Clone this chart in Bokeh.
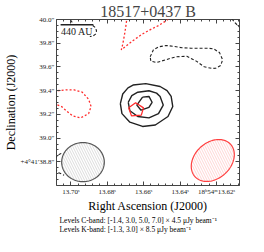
import numpy as np
from bokeh.plotting import figure
from bokeh.models import Range1d, FixedTicker, LinearAxis, Label, Title
from bokeh.embed import file_html
from bokeh.resources import INLINE

# ---------------- data ----------------
title_text = "18517+0437 B"
x_label_text = "Right Ascension (J2000)"
y_label_text = "Declination (J2000)"
levels_c_text = "Levels C-band: [-1.4, 3.0, 5.0, 7.0] × 4.5 μJy beam⁻¹"
levels_k_text = "Levels K-band: [-1.3, 3.0] × 8.5 μJy beam⁻¹"
scale_text = "440 AU"

x_tick_values = [13.70, 13.68, 13.66, 13.64, 13.62]
x_tick_labels = ["13.70ˢ", "13.68ˢ", "13.66ˢ", "13.64ˢ", "18ʰ54ᵐ13.62ˢ"]
y_tick_values = [38.8, 39.0, 39.2, 39.4, 39.6, 39.8, 40.0]
y_tick_labels = ["+4°41′38.8″", "39.0″", "39.2″", "39.4″", "39.6″", "39.8″", "40.0″"]

ra_range = [13.70785, 13.60733]
dec_range = [38.6, 40.0]

# C-band (black) contours: positive levels (solid)
c_pos1_ra = [13.67278, 13.67147, 13.66859, 13.66581, 13.65880, 13.65094, 13.64712, 13.64487,
             13.64398, 13.64660, 13.65356, 13.66058, 13.66754, 13.67189, 13.67278]
c_pos1_dec = [39.291, 39.372, 39.423, 39.447, 39.459, 39.435, 39.401, 39.351,
              39.266, 39.182, 39.110, 39.098, 39.134, 39.206, 39.291]
c_pos2_ra = [13.66843, 13.66649, 13.66320, 13.65707, 13.65288, 13.65094, 13.64922, 13.65183,
             13.65707, 13.66320, 13.66754, 13.66843]
c_pos2_dec = [39.302, 39.358, 39.387, 39.399, 39.379, 39.351, 39.278, 39.206,
              39.170, 39.182, 39.230, 39.302]
c_pos3_ra = [13.66058, 13.65707, 13.65534, 13.65707, 13.66141, 13.66372, 13.66058]
c_pos3_dec = [39.345, 39.351, 39.302, 39.259, 39.235, 39.278, 39.345]

# C-band negative level (dashed)
c_neg1_ra = [13.65639, 13.65461, 13.65183, 13.64765, 13.64346, 13.63890, 13.63403, 13.62843,
             13.62409, 13.62147, 13.61833, 13.61660, 13.61765, 13.62042, 13.62236, 13.62670,
             13.63105, 13.63628, 13.64241, 13.64765, 13.65288, 13.65602, 13.65639]
c_neg1_dec = [39.685, 39.745, 39.769, 39.781, 39.773, 39.762, 39.758, 39.757,
              39.757, 39.752, 39.721, 39.661, 39.612, 39.589, 39.587, 39.601,
              39.649, 39.690, 39.685, 39.661, 39.637, 39.649, 39.685]
c_neg2_ra = [13.68796, 13.68639, 13.68586, 13.68639, 13.68796, 13.68953]
c_neg2_dec = [39.949, 39.931, 39.903, 39.877, 39.859, 39.856]
c_neg3_ra = [13.70026, 13.69869]
c_neg3_dec = [39.996, 39.967]
c_neg4_ra = [13.61152, 13.60995, 13.60733]
c_neg4_dec = [40.007, 39.975, 39.935]
c_neg5_ra = [13.70524, 13.70733, 13.70943, 13.70995, 13.70838, 13.70628, 13.70367]
c_neg5_dec = [38.871, 38.853, 38.809, 38.766, 38.730, 38.705, 38.687]

# K-band (red) contours
k_pos1_ra = [13.66822, 13.66440, 13.66005, 13.66126, 13.66665, 13.66822]
k_pos1_dec = [39.255, 39.298, 39.255, 39.194, 39.187, 39.255]
k_neg1_ra = [13.66911, 13.66927, 13.66990, 13.67068, 13.67147, 13.67225, 13.67016, 13.66597,
             13.66073, 13.65602, 13.65183, 13.64765, 13.64503]
k_neg1_dec = [40.022, 40.000, 39.928, 39.856, 39.791, 39.744, 39.769, 39.820,
              39.877, 39.917, 39.949, 39.989, 40.022]
k_neg2_ra = [13.70943, 13.70770, 13.70262, 13.69806, 13.69372, 13.69021, 13.68885, 13.69021,
             13.69461, 13.69895, 13.70246, 13.70508, 13.70770, 13.70943]
k_neg2_dec = [39.397, 39.399, 39.406, 39.406, 39.387, 39.327, 39.266, 39.206,
              39.170, 39.187, 39.230, 39.266, 39.283, 39.289]

# scale bar
scale_ra = [13.70560, 13.68759]
scale_dec = [39.955, 39.955]

# beams: centre RA (s), centre Dec (arcsec), major, minor (arcsec), PA (deg)
beam_c = [13.6933, 38.797, 0.35, 0.33, 90.0]
beam_k = [13.6220, 38.811, 0.40, 0.30, -45.0]
dec0_deg = 4.0 + 41.0 / 60.0 + 38.8 / 3600.0

# ---------------- figure ----------------
SERIF = "Liberation Serif"
p = figure(width=248, height=236, output_backend="svg", toolbar_location=None,
           x_range=Range1d(*ra_range), y_range=Range1d(*dec_range),
           x_axis_type=None, y_axis_type=None, title=title_text,
           min_border_left=10, min_border_right=9, min_border_top=0, min_border_bottom=0)
p.grid.visible = False
p.outline_line_color = "#444444"
p.outline_line_width = 1
p.background_fill_color = "white"
p.border_fill_color = "white"
p.title.text_font = SERIF
p.title.text_font_size = "16px"
p.title.text_font_style = "normal"
p.title.align = "center"
p.title.standoff = 0

x_minor = [round(13.604 + 0.004 * i, 3) for i in range(27)]
y_minor = [round(38.6 + 0.05 * i, 2) for i in range(29)]


def make_axis(ticks, minor, labels, axis_label=None):
    ax = LinearAxis(ticker=FixedTicker(ticks=ticks, minor_ticks=minor))
    ax.axis_line_color = None
    ax.major_tick_in = 4
    ax.major_tick_out = 0
    ax.minor_tick_in = 2
    ax.minor_tick_out = 0
    ax.major_tick_line_color = "#444444"
    ax.minor_tick_line_color = "#444444"
    ax.major_label_text_font = SERIF
    ax.major_label_text_font_size = "7px"
    ax.major_label_text_color = "#222222"
    if labels is None:
        ax.major_label_standoff = 0
        ax.major_label_overrides = {t: "" for t in ticks}
    else:
        ax.major_label_standoff = 2
        ax.major_label_overrides = {t: l for t, l in zip(ticks, labels)}
    if axis_label is not None:
        ax.axis_label = axis_label
        ax.axis_label_text_font = SERIF
        ax.axis_label_text_font_size = "12px"
        ax.axis_label_text_font_style = "normal"
        ax.axis_label_text_color = "black"
        ax.axis_label_standoff = 0
    return ax


p.add_layout(make_axis(x_tick_values, x_minor, x_tick_labels, x_label_text), "below")
p.add_layout(make_axis(x_tick_values, x_minor, None), "above")
p.add_layout(make_axis(y_tick_values, y_minor, y_tick_labels, y_label_text), "left")
p.add_layout(make_axis(y_tick_values, y_minor, None), "right")

levels_title = Title(text=levels_c_text + "\n" + levels_k_text, align="left",
                     vertical_align="top",
                     text_font=SERIF, text_font_size="7.5px", text_line_height=1.1,
                     text_font_style="normal", standoff=0, offset=3, text_color="black")
p.add_layout(levels_title, "below")

BLACK = "#222222"
RED = "#ff2b2b"

# beams
for beam, lc, hc in [(beam_c, "#555555", "#b8b8b8"), (beam_k, "#ff4040", "#ffaaaa")]:
    ra0, d0, maj, mnr, pa = beam
    t = np.linspace(0, 2 * np.pi, 121)
    a, b, th = maj / 2.0, mnr / 2.0, np.radians(pa)
    east = a * np.cos(t) * np.sin(th) + b * np.sin(t) * np.cos(th)
    north = a * np.cos(t) * np.cos(th) - b * np.sin(t) * np.sin(th)
    bx = ra0 + east / (15.0 * np.cos(np.radians(dec0_deg)))
    by = d0 + north
    p.patch(bx, by, fill_alpha=0, line_color=lc, line_width=1.2,
            hatch_pattern="\\", hatch_color=hc, hatch_scale=5, hatch_weight=0.5)

# C-band contours
for xs, ys in [(c_pos1_ra, c_pos1_dec), (c_pos2_ra, c_pos2_dec), (c_pos3_ra, c_pos3_dec)]:
    p.line(xs, ys, line_color=BLACK, line_width=1.4)
for xs, ys in [(c_neg1_ra, c_neg1_dec), (c_neg2_ra, c_neg2_dec), (c_neg3_ra, c_neg3_dec),
               (c_neg4_ra, c_neg4_dec), (c_neg5_ra, c_neg5_dec)]:
    p.line(xs, ys, line_color=BLACK, line_width=1.1, line_dash="3 2")

# K-band contours
p.line(k_pos1_ra, k_pos1_dec, line_color=RED, line_width=1.3)
for xs, ys in [(k_neg1_ra, k_neg1_dec), (k_neg2_ra, k_neg2_dec)]:
    p.line(xs, ys, line_color=RED, line_width=1.3, line_dash="2 2")

# scale bar
p.line(scale_ra, scale_dec, line_color=BLACK, line_width=1.5)
p.add_layout(Label(x=sum(scale_ra) / 2, y=scale_dec[0], y_offset=-7, text=scale_text,
                   text_font=SERIF, text_font_size="10px", text_align="center",
                   text_baseline="middle", text_color=BLACK))

open("out.html", "w").write(file_html(p, INLINE))
